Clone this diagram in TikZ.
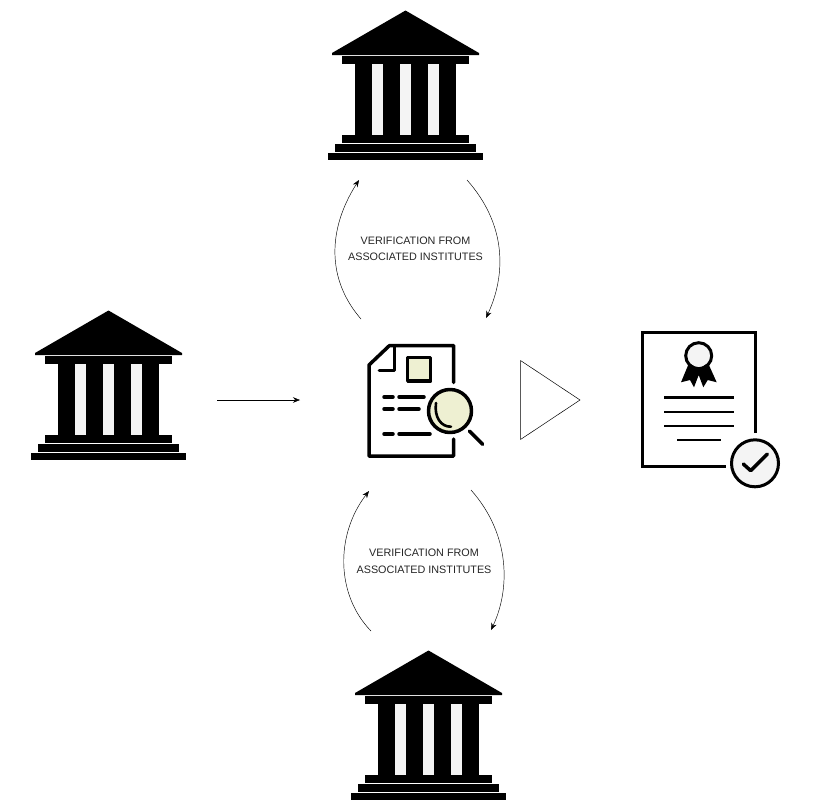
\documentclass[tikz,border=0pt]{standalone}
\usepackage{fontspec}
\setmainfont{Liberation Sans}
\usetikzlibrary{arrows.meta}
\definecolor{cream}{HTML}{EEF0D2}
\definecolor{paper}{HTML}{F4F4F4}
\tikzset{
  flow/.style={line width=.45pt,-{Stealth[length=7pt,width=5.5pt]}},
  icon/.style={line width=3.5pt,line cap=round,line join=round},
  slot/.style={minimum width=218pt,minimum height=120pt,inner sep=0pt,outer sep=0pt},
  tag/.style={align=center,font=\fontsize{10.8pt}{16.5pt}\selectfont,text=black!85,inner sep=0pt},
  bank/.pic={
    \fill[paper] (-40,52) rectangle (41,124);
    \fill (.5,-.5) -- (74,42) -- (74,44) -- (-73,44) -- (-73,42) -- cycle;
    \fill (-63,45) rectangle (64,53);
    \foreach \c in {-50.5,-22.5,5.5,33.5} \fill (\c,53) rectangle ++(17.3,70.5);
    \fill (-63,124) rectangle (64,132);
    \fill (-70.5,133) rectangle (71,140.5);
    \fill (-77,141.5) rectangle (78,149);
  }
}
\begin{document}
\begin{tikzpicture}[x=1pt,y=-1pt]
\useasboundingbox (0,0) rectangle (832,811);
% institutes
\node (bankL) [slot] at (108,400) {};
\node (bankT) [slot] at (405,85) {};
\node (bankB) [slot] at (428,725) {};
\pic at (405,11) {bank};
\pic at (108,311) {bank};
\pic at (428,651) {bank};
% document under the lens
\node (docu) [slot,minimum width=250pt] at (425,400) {};
\draw[icon] (453.7,382.5) -- (453.7,345.7) -- (389.3,345.7) -- (369,365) -- (369,456) -- (453.7,456) -- (453.7,439);
\draw[icon] (394.3,347) -- (394.3,370.7) -- (379.3,370.7);
\draw[icon,fill=cream] (407.7,357.7) rectangle (430.7,381);
\foreach \y/\e in {397/424,409/419,434/430} {
  \draw[icon] (384,\y) -- (393,\y);
  \draw[icon] (399,\y) -- (\e,\y);
}
\draw[icon,fill=cream] (450,411) circle (21.5);
\draw[line width=2.6pt,line cap=round] (436,403) .. controls (434,417) and (441,427) .. (451,426.7);
\draw[icon] (469.3,431) -- (482.7,444.3);
% triangle
\draw[line width=.5pt,fill=white,line join=miter] (520.5,360.5) -- (580,400) -- (520.5,439.5) -- cycle;
% certificate
\draw[line width=3pt] (755.3,433) -- (755.3,332) -- (642.3,332) -- (642.3,466) -- (726,466);
\draw[line width=3pt,fill=paper] (698.7,355.7) circle (13);
\fill (689,363) -- (681,382.3) -- (690,380) -- (694,387.3) -- (698.7,375) -- (703.3,387.3) -- (707.7,380) -- (716.7,382.3) -- (708,363) -- (698.7,369) -- cycle;
\foreach \y in {397.7,412,426} \draw[line width=2.8pt] (664,\y) -- (734,\y);
\draw[line width=2.8pt] (677,440) -- (721,440);
\draw[line width=3pt,fill=paper] (755,463.3) circle (23.5);
\draw[icon] (743.3,464) -- (750.7,470.7) -- (767.3,454);
% connectors
\coordinate (a1) at (361,319);
\coordinate (a2) at (359,180);
\coordinate (b1) at (467,180);
\coordinate (b2) at (486,318);
\coordinate (c1) at (371,631);
\coordinate (c2) at (369,491);
\coordinate (d1) at (471,490);
\coordinate (d2) at (491,630);
\draw[flow] (bankL) -- (docu);
\draw[flow] (a1) .. controls (327,280) and (327,230) .. (a2);
\draw[flow] (b1) .. controls (507,225) and (506,275) .. (b2);
\draw[flow] (c1) .. controls (336,595) and (335,535) .. (c2);
\draw[flow] (d1) .. controls (511,535) and (510,590) .. (d2);
% labels
\node (tagT) [tag] at (415.5,249) {VERIFICATION FROM\\ASSOCIATED INSTITUTES};
\node (tagB) [tag] at (424,561.5) {VERIFICATION FROM\\ASSOCIATED INSTITUTES};
\end{tikzpicture}
\end{document}
